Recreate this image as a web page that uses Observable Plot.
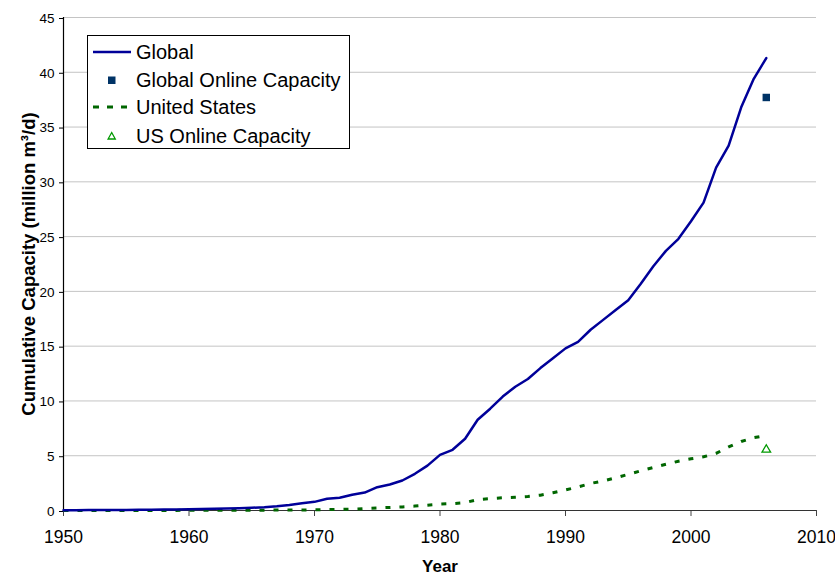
<!DOCTYPE html>
<html><head><meta charset="utf-8">
<script src="https://cdn.jsdelivr.net/npm/d3@7"></script>
<script src="https://cdn.jsdelivr.net/npm/@observablehq/plot@0.6"></script>
<style>
body{margin:0;background:#fff;font-family:"Liberation Sans",Arial,sans-serif;}
#wrap{position:relative;width:835px;height:574px;}
#legend{position:absolute;left:87px;top:35px;width:263px;height:114px;border:1px solid #000;background:#fff;box-sizing:border-box;}
.row{position:absolute;left:0;height:28px;width:100%;}
.row svg{position:absolute;left:0;top:0;}
.row span{position:absolute;left:48px;top:0;line-height:28px;font-size:20px;color:#000;white-space:nowrap;}
g[aria-label="x-axis label"] text{font-weight:bold;font-size:17px;}
g[aria-label="y-axis label"] text{font-weight:bold;font-size:18.5px;}
</style></head>
<body><div id="wrap"><div id="chart"></div>
<div id="legend">
 <div class="row" style="top:2px"><svg width="46" height="28"><line x1="5" y1="14" x2="43" y2="14" stroke="#000099" stroke-width="2.5"/></svg><span>Global</span></div>
 <div class="row" style="top:30px"><svg width="46" height="28"><rect x="20" y="10.5" width="7.5" height="7.5" fill="#003366"/></svg><span>Global Online Capacity</span></div>
 <div class="row" style="top:57px"><svg width="46" height="28"><line x1="5" y1="14" x2="43" y2="14" stroke="#006600" stroke-width="3" stroke-dasharray="6,8"/></svg><span>United States</span></div>
 <div class="row" style="top:86px"><svg width="46" height="28"><path d="M23.7,10.5 L27.3,17 L20.1,17 Z" fill="#fff" stroke="#009900" stroke-width="1.3"/></svg><span>US Online Capacity</span></div>
</div></div>
<script>
const years = [1950,1951,1952,1953,1954,1955,1956,1957,1958,1959,1960,1961,1962,1963,1964,1965,1966,1967,1968,1969,1970,1971,1972,1973,1974,1975,1976,1977,1978,1979,1980,1981,1982,1983,1984,1985,1986,1987,1988,1989,1990,1991,1992,1993,1994,1995,1996,1997,1998,1999,2000,2001,2002,2003,2004,2005,2006];
const globalCap = [0.03,0.03,0.04,0.04,0.05,0.05,0.06,0.07,0.08,0.10,0.12,0.14,0.16,0.18,0.21,0.25,0.30,0.38,0.50,0.67,0.79,1.07,1.16,1.43,1.64,2.13,2.37,2.74,3.35,4.10,5.08,5.54,6.55,8.28,9.29,10.4,11.3,12.0,13.0,13.9,14.8,15.4,16.5,17.4,18.3,19.2,20.7,22.3,23.7,24.8,26.4,28.1,31.3,33.3,36.8,39.4,41.3];
const usCap = [0.00,0.00,0.00,0.00,0.01,0.01,0.01,0.01,0.01,0.01,0.02,0.02,0.02,0.02,0.03,0.03,0.03,0.04,0.04,0.05,0.06,0.08,0.10,0.12,0.18,0.23,0.28,0.33,0.40,0.49,0.58,0.63,0.72,1.00,1.08,1.16,1.21,1.28,1.40,1.62,1.88,2.15,2.47,2.70,2.98,3.30,3.62,3.92,4.22,4.50,4.72,4.90,5.22,5.80,6.30,6.65,6.85];
const onlineYear = [2006];
const globalOnline = [37.7];
const usOnline = [5.55];
const xTicks = [1950,1960,1970,1980,1990,2000,2010];
const yTicks = [0,5,10,15,20,25,30,35,40,45];

const gData = years.map((y,i)=>({year:y, v:globalCap[i]}));
const uData = years.map((y,i)=>({year:y, v:usCap[i]}));
const gOn = onlineYear.map((y,i)=>({year:y, v:globalOnline[i]}));
const uOn = onlineYear.map((y,i)=>({year:y, v:usOnline[i]}));

const chart = Plot.plot({
  width: 835, height: 574,
  marginLeft: 63, marginRight: 19, marginTop: 17, marginBottom: 64,
  style: {fontFamily: "'Liberation Sans', Arial, sans-serif", color: "#000", background: "#fff", overflow: "visible"},
  x: {domain: [1950, 2010]},
  y: {domain: [0, 45]},
  marks: [
    Plot.ruleY(yTicks.filter(d => d > 0), {stroke: "#c4c4c4", strokeWidth: 1}),
    Plot.axisX({ticks: xTicks, tickSize: 6, tickPadding: 14, fontSize: 17.5, tickFormat: d => String(d), stroke: "#444",
      label: "Year", labelAnchor: "center", labelArrow: "none", labelOffset: 61}),
    Plot.axisY({ticks: yTicks, tickSize: 4, tickPadding: 5, fontSize: 13.5, tickFormat: d => String(d), dy: 1,
      label: "Cumulative Capacity (million m³/d)", labelAnchor: "center", labelArrow: "none", labelOffset: 42}),
    Plot.ruleX([1950], {stroke: "#000", strokeWidth: 1.2}),
    Plot.ruleY([0], {stroke: "#333", strokeWidth: 1.2}),
    Plot.line(uData, {x: "year", y: "v", stroke: "#006600", strokeWidth: 3, strokeDasharray: "5,9", strokeLinecap: "butt"}),
    Plot.line(gData, {x: "year", y: "v", stroke: "#000099", strokeWidth: 2.5}),
    Plot.dot(gOn, {x: "year", y: "v", symbol: "square", r: 4.2, fill: "#003366", stroke: "none"}),
    Plot.dot(uOn, {x: "year", y: "v", symbol: "triangle", r: 3.2, fill: "#fff", stroke: "#009900", strokeWidth: 1.3})
  ]
});
document.getElementById("chart").appendChild(chart);
</script>
</body></html>
